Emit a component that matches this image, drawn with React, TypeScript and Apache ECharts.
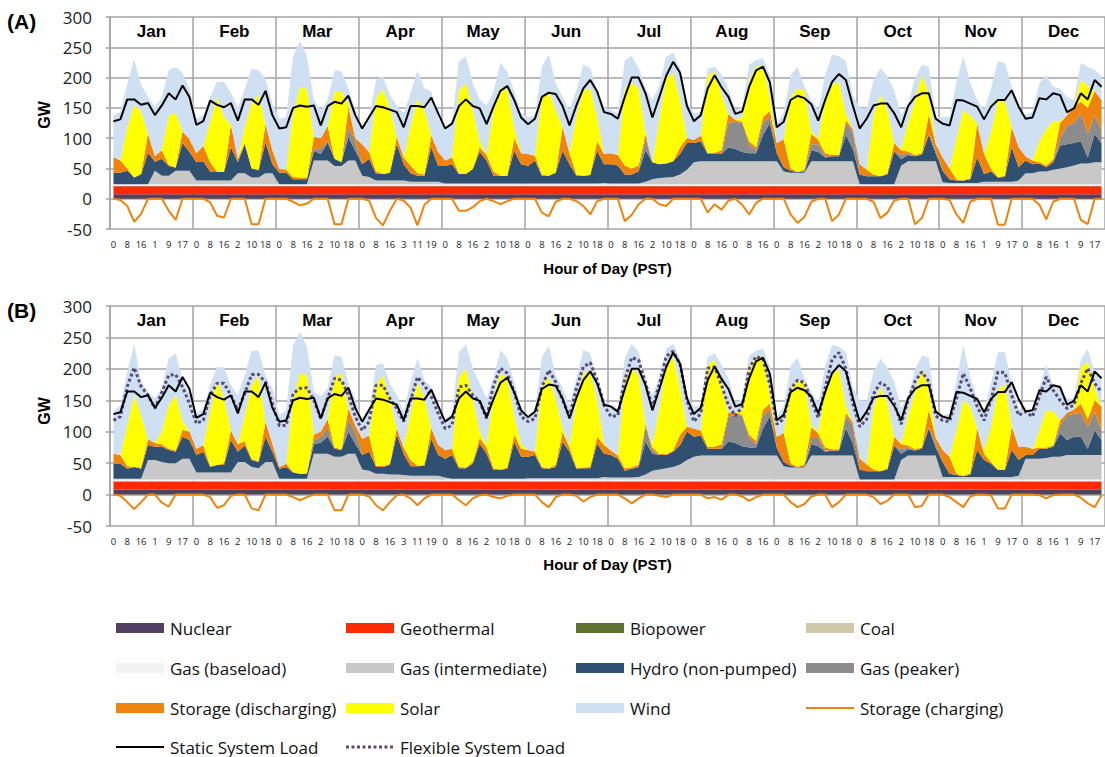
import React, { useEffect, useRef } from "react";
import * as echarts from "echarts";

const MONTHS = ["Jan", "Feb", "Mar", "Apr", "May", "Jun", "Jul", "Aug", "Sep", "Oct", "Nov", "Dec"];
const POINTS_PER_MONTH = 12;

// hour labels printed under every second point of each month
const HOUR_TICK_LABELS = [
  "0", "8", "16", "1", "9", "17",
  "0", "8", "16", "2", "10", "18",
  "0", "8", "16", "2", "10", "18",
  "0", "8", "16", "3", "11", "19",
  "0", "8", "16", "2", "10", "18",
  "0", "8", "16", "2", "10", "18",
  "0", "8", "16", "2", "10", "18",
  "0", "8", "16", "0", "8", "16",
  "0", "8", "16", "2", "10", "18",
  "0", "8", "16", "2", "10", "18",
  "0", "8", "16", "1", "9", "17",
  "0", "8", "16", "1", "9", "17",
];

// flat base generation (GW), constant within each month
const nuclearByMonth = [7.5, 7.5, 7.5, 7.5, 7.5, 7.5, 7.5, 7.5, 7.5, 7.5, 7.5, 7.5];
const geothermalByMonth = [13, 13, 13, 13, 13, 13, 13, 13, 13, 13, 13, 13];
const biopowerByMonth = [0.5, 0.5, 0.5, 0.5, 0.5, 0.5, 0.5, 0.5, 0.5, 0.5, 0.5, 0.5];
const coalByMonth = [0, 0, 0, 0, 0, 0, 0, 0, 0, 0, 0, 0];
const gasBaseloadByMonth = [3, 3, 3, 3, 3, 3, 3, 3, 3, 3, 3, 3];

// ---------- Panel (A): upper edge of each stacked layer (GW) ----------
const gasIntTopA = [
  24, 24, 24, 24, 24, 24, 46, 38, 38, 46, 46, 46,
  30, 30, 30, 30, 30, 30, 42, 42, 35, 35, 42, 42,
  24, 24, 24, 24, 24, 63, 63, 63, 54, 54, 63, 63,
  38, 36, 30, 30, 30, 30, 30, 28, 28, 28, 28, 28,
  25, 25, 25, 25, 25, 25, 25, 25, 25, 25, 25, 25,
  25, 25, 25, 25, 25, 25, 25, 25, 25, 25, 25, 26,
  25, 25, 25, 25, 25, 28, 32, 34, 35, 36, 40, 48,
  60, 62, 62, 62, 62, 62, 62, 62, 62, 62, 62, 62,
  62, 45, 43, 43, 43, 62, 62, 62, 62, 62, 62, 62,
  24, 24, 24, 24, 24, 24, 55, 62, 62, 62, 62, 62,
  27, 26, 26, 26, 26, 26, 28, 28, 28, 28, 28, 30,
  42, 42, 45, 45, 48, 50, 52, 55, 58, 58, 60, 60,
];
const hydroTopA = [
  43, 43, 46, 35, 40, 76, 61, 66, 54, 51, 92, 77,
  60, 62, 44, 44, 44, 85, 60, 90, 50, 47, 93, 57,
  43, 43, 32, 32, 32, 79, 74, 93, 66, 60, 102, 79,
  57, 66, 41, 41, 43, 90, 57, 42, 38, 38, 85, 54,
  54, 57, 41, 41, 49, 77, 63, 38, 38, 38, 79, 57,
  54, 63, 38, 38, 43, 79, 57, 38, 38, 39, 79, 57,
  57, 55, 40, 40, 45, 80, 60, 57, 58, 62, 74, 92,
  92, 95, 74, 74, 74, 85, 82, 77, 75, 75, 105, 125,
  75, 52, 46, 44, 44, 80, 77, 68, 70, 70, 105, 82,
  40, 37, 37, 37, 40, 78, 65, 72, 70, 73, 105, 75,
  46, 32, 30, 30, 32, 68, 41, 45, 35, 36, 85, 52,
  63, 57, 58, 52, 60, 88, 90, 92, 95, 68, 107, 91,
];
const peakerTopA = [
  43, 43, 46, 35, 40, 76, 61, 66, 54, 51, 92, 77,
  60, 62, 44, 44, 44, 85, 60, 90, 50, 47, 93, 57,
  43, 43, 32, 32, 32, 83, 82, 95, 66, 60, 118, 95,
  57, 66, 41, 41, 43, 90, 57, 42, 38, 38, 85, 54,
  54, 57, 41, 41, 49, 77, 63, 38, 38, 38, 79, 57,
  54, 63, 38, 38, 43, 79, 57, 38, 38, 39, 79, 57,
  57, 55, 40, 40, 45, 100, 60, 57, 58, 62, 74, 92,
  92, 95, 74, 74, 74, 125, 127, 125, 90, 80, 125, 135,
  75, 52, 46, 44, 44, 90, 90, 70, 70, 70, 125, 110,
  40, 37, 37, 37, 40, 78, 72, 75, 70, 73, 108, 80,
  46, 32, 30, 30, 32, 68, 41, 45, 35, 36, 85, 52,
  63, 57, 58, 52, 60, 100, 121, 124, 141, 107, 138, 113,
];
const storageTopA = [
  69, 63, 50, 35, 42, 107, 70, 80, 56, 52, 111, 98,
  75, 87, 60, 44, 44, 122, 66, 92, 50, 47, 123, 80,
  49, 48, 36, 35, 35, 102, 100, 120, 66, 60, 152, 100,
  90, 77, 45, 41, 43, 102, 68, 55, 42, 40, 104, 77,
  63, 68, 41, 41, 49, 85, 72, 45, 38, 38, 100, 75,
  74, 71, 40, 38, 43, 118, 75, 40, 38, 39, 95, 74,
  75, 72, 55, 50, 55, 107, 60, 57, 58, 62, 85, 100,
  97, 104, 76, 76, 80, 140, 130, 127, 95, 85, 135, 145,
  92, 98, 50, 44, 48, 107, 97, 75, 72, 72, 130, 115,
  57, 48, 40, 37, 42, 92, 80, 78, 72, 75, 140, 90,
  68, 50, 32, 30, 34, 124, 74, 50, 36, 38, 118, 85,
  70, 63, 60, 55, 65, 125, 138, 152, 160, 150, 178, 163,
];
const solarTopA = [
  69, 63, 117, 155, 144, 107, 70, 82, 137, 142, 111, 98,
  75, 87, 128, 168, 135, 122, 66, 118, 158, 172, 123, 80,
  49, 48, 140, 184, 181, 102, 100, 120, 177, 177, 157, 100,
  90, 77, 166, 181, 150, 102, 68, 120, 165, 146, 104, 77,
  63, 68, 179, 191, 146, 95, 72, 146, 185, 179, 118, 75,
  74, 71, 168, 178, 146, 118, 75, 138, 179, 182, 135, 74,
  75, 72, 182, 191, 182, 110, 60, 132, 199, 208, 163, 100,
  97, 104, 204, 210, 172, 140, 130, 135, 196, 218, 221, 168,
  92, 98, 168, 182, 179, 110, 100, 163, 188, 193, 141, 115,
  57, 48, 138, 171, 146, 92, 82, 125, 163, 204, 174, 92,
  68, 50, 99, 146, 138, 124, 74, 110, 160, 160, 118, 85,
  70, 63, 95, 115, 128, 128, 138, 152, 196, 186, 178, 163,
];
const windTopA = [
  138, 143, 190, 230, 188, 168, 152, 168, 212, 217, 208, 182,
  132, 138, 168, 193, 193, 175, 150, 181, 215, 212, 198, 158,
  132, 135, 235, 260, 236, 163, 146, 163, 212, 210, 182, 146,
  118, 135, 196, 202, 171, 154, 141, 174, 212, 182, 177, 132,
  118, 128, 227, 235, 191, 164, 154, 177, 224, 210, 177, 141,
  135, 138, 218, 238, 191, 168, 146, 179, 221, 216, 179, 152,
  146, 141, 229, 236, 216, 182, 163, 188, 234, 242, 216, 160,
  141, 143, 215, 218, 205, 182, 147, 152, 221, 229, 232, 205,
  124, 141, 204, 218, 185, 163, 146, 204, 238, 235, 227, 171,
  150, 149, 195, 216, 202, 179, 138, 157, 199, 221, 218, 135,
  135, 135, 193, 235, 191, 163, 146, 182, 227, 224, 185, 146,
  138, 143, 191, 204, 185, 182, 168, 163, 224, 218, 213, 202,
];
const storageChargingA = [
  0, -2, -12, -38, -25, 0, 0, 0, -20, -35, 0, 0,
  0, 0, -6, -28, -31, 0, 0, 0, -42, -42, 0, 0,
  0, 0, -5, -11, -8, 0, 0, 0, -42, -42, 0, 0,
  0, -3, -32, -44, -20, 0, -3, -15, -44, -10, 0, 0,
  0, 0, -20, -20, -14, -4, 0, -4, -9, -4, 0, 0,
  0, 0, -23, -29, -5, 0, 0, -4, -12, -26, -4, 0,
  0, 0, -37, -27, -9, 0, 0, -9, -12, 0, 0, 0,
  0, 0, -23, -9, -18, -3, 0, -10, -26, -7, 0, 0,
  0, 0, -26, -40, -30, -5, 0, 0, -37, -26, 0, 0,
  0, 0, -5, -32, -23, -3, 0, 0, -42, -32, 0, 0,
  0, -2, -26, -40, -5, 0, 0, 0, -43, -43, 0, 0,
  0, 0, -10, -34, -5, 0, 0, 0, -35, -42, 0, 0,
];

// static system load, identical in both panels (GW)
const staticLoad = [
  128, 131, 164, 164, 155, 158, 138, 154, 174, 164, 187, 168,
  122, 128, 162, 155, 151, 158, 129, 164, 164, 155, 178, 138,
  116, 118, 150, 154, 152, 154, 121, 153, 160, 157, 170, 138,
  116, 135, 153, 151, 147, 143, 118, 153, 153, 151, 167, 141,
  116, 124, 153, 164, 153, 149, 123, 152, 178, 186, 163, 134,
  123, 132, 168, 175, 173, 153, 121, 154, 182, 196, 177, 143,
  140, 132, 168, 200, 200, 174, 134, 168, 203, 226, 208, 153,
  128, 138, 182, 204, 184, 168, 140, 144, 185, 212, 218, 192,
  118, 127, 163, 170, 166, 156, 129, 163, 193, 206, 196, 154,
  116, 132, 154, 157, 157, 141, 118, 153, 168, 174, 174, 132,
  124, 121, 163, 162, 157, 152, 131, 152, 163, 163, 179, 152,
  132, 134, 166, 164, 174, 171, 143, 149, 174, 164, 196, 185,
];

// ---------- Panel (B) ----------
const gasIntTopB = [
  25, 25, 25, 25, 25, 55, 55, 52, 50, 50, 57, 57,
  35, 35, 35, 35, 35, 35, 52, 52, 44, 42, 52, 52,
  25, 25, 25, 25, 25, 65, 65, 65, 60, 60, 65, 65,
  40, 38, 33, 33, 32, 32, 31, 30, 30, 30, 30, 30,
  27, 25, 25, 25, 25, 25, 25, 25, 25, 25, 25, 25,
  26, 26, 26, 26, 26, 26, 26, 26, 26, 26, 26, 28,
  27, 27, 27, 27, 28, 32, 38, 40, 42, 44, 48, 55,
  60, 62, 62, 62, 62, 62, 62, 62, 62, 62, 62, 62,
  62, 45, 43, 43, 43, 62, 62, 62, 62, 62, 62, 62,
  24, 24, 24, 24, 24, 24, 55, 62, 62, 62, 62, 62,
  28, 28, 28, 28, 28, 28, 28, 28, 28, 28, 28, 30,
  57, 57, 57, 58, 60, 60, 63, 63, 63, 63, 63, 63,
];
const hydroTopB = [
  49, 49, 41, 44, 41, 79, 76, 76, 71, 68, 92, 87,
  63, 68, 44, 47, 47, 87, 68, 78, 55, 52, 92, 68,
  41, 44, 35, 33, 33, 80, 83, 92, 73, 71, 100, 81,
  63, 68, 44, 44, 47, 95, 65, 45, 45, 46, 89, 63,
  57, 63, 42, 42, 49, 81, 65, 39, 39, 41, 84, 60,
  60, 63, 42, 41, 44, 84, 68, 41, 42, 42, 81, 65,
  63, 57, 38, 41, 44, 84, 65, 63, 63, 68, 79, 100,
  92, 94, 73, 73, 73, 85, 82, 77, 75, 75, 105, 125,
  75, 52, 46, 44, 44, 80, 77, 68, 70, 70, 105, 82,
  40, 37, 37, 37, 40, 78, 65, 72, 70, 73, 105, 75,
  52, 33, 31, 29, 32, 71, 55, 49, 39, 39, 71, 55,
  63, 63, 73, 73, 76, 97, 87, 92, 92, 73, 102, 87,
];
const peakerTopB = [
  49, 49, 41, 44, 41, 79, 76, 76, 71, 68, 92, 87,
  63, 68, 44, 47, 47, 87, 68, 78, 55, 52, 92, 68,
  41, 44, 35, 33, 33, 87, 92, 105, 73, 71, 120, 100,
  63, 68, 44, 44, 47, 95, 65, 45, 45, 46, 89, 63,
  57, 63, 42, 42, 49, 81, 65, 39, 39, 41, 84, 60,
  60, 63, 42, 41, 44, 84, 68, 41, 42, 42, 81, 65,
  63, 57, 38, 41, 44, 108, 70, 63, 63, 68, 79, 100,
  92, 94, 73, 73, 73, 124, 127, 125, 90, 80, 125, 135,
  75, 52, 46, 44, 44, 90, 90, 70, 70, 70, 125, 110,
  40, 37, 37, 37, 40, 78, 72, 75, 70, 73, 108, 80,
  52, 33, 31, 29, 32, 71, 55, 49, 39, 39, 71, 55,
  63, 63, 73, 73, 76, 110, 126, 128, 130, 108, 132, 102,
];
const storageTopB = [
  65, 63, 45, 44, 43, 88, 82, 80, 73, 70, 103, 100,
  73, 79, 45, 47, 50, 102, 80, 85, 56, 53, 116, 81,
  44, 49, 36, 33, 34, 95, 100, 120, 75, 72, 137, 110,
  89, 94, 46, 45, 49, 105, 75, 55, 46, 47, 105, 79,
  71, 73, 44, 43, 52, 90, 75, 42, 40, 43, 95, 73,
  71, 68, 44, 42, 47, 100, 75, 43, 43, 44, 92, 79,
  70, 62, 42, 43, 48, 112, 75, 65, 64, 70, 95, 108,
  105, 102, 76, 76, 80, 130, 130, 127, 95, 85, 135, 145,
  92, 98, 50, 44, 48, 107, 97, 75, 72, 72, 130, 115,
  57, 48, 40, 37, 42, 92, 80, 78, 72, 75, 135, 90,
  71, 60, 33, 30, 34, 105, 65, 52, 40, 40, 108, 76,
  76, 73, 75, 75, 78, 118, 130, 135, 145, 120, 150, 140,
];
const solarTopB = [
  65, 63, 110, 158, 126, 88, 82, 100, 142, 158, 117, 100,
  73, 79, 132, 183, 153, 102, 80, 125, 174, 190, 116, 81,
  44, 49, 150, 193, 190, 95, 100, 121, 187, 193, 137, 110,
  89, 94, 174, 190, 153, 105, 75, 130, 179, 153, 105, 79,
  71, 73, 187, 201, 153, 100, 78, 158, 193, 185, 126, 80,
  71, 68, 174, 187, 153, 105, 78, 150, 193, 198, 150, 82,
  70, 62, 185, 201, 190, 112, 80, 137, 206, 219, 169, 108,
  105, 102, 206, 214, 174, 130, 130, 135, 200, 220, 218, 160,
  92, 98, 168, 182, 179, 110, 100, 163, 190, 200, 141, 115,
  57, 48, 138, 171, 146, 92, 82, 125, 163, 200, 170, 92,
  71, 60, 102, 150, 140, 105, 70, 108, 166, 177, 110, 76,
  76, 73, 102, 134, 132, 118, 130, 135, 203, 211, 169, 140,
];
const windTopB = [
  132, 142, 195, 240, 180, 163, 153, 169, 217, 225, 182, 161,
  129, 137, 174, 203, 202, 174, 158, 190, 229, 229, 190, 169,
  126, 134, 238, 259, 235, 163, 156, 169, 222, 219, 177, 153,
  116, 132, 206, 209, 177, 158, 132, 179, 217, 182, 171, 134,
  121, 129, 227, 239, 201, 177, 153, 185, 230, 217, 179, 140,
  121, 134, 219, 237, 190, 169, 142, 185, 230, 225, 182, 153,
  140, 137, 217, 240, 227, 179, 158, 187, 232, 240, 217, 158,
  141, 142, 219, 225, 206, 185, 147, 152, 221, 229, 232, 205,
  124, 141, 204, 218, 185, 163, 146, 204, 238, 235, 227, 171,
  150, 149, 195, 216, 202, 179, 138, 157, 199, 221, 218, 135,
  126, 129, 182, 238, 187, 153, 134, 177, 227, 227, 177, 137,
  129, 134, 171, 206, 174, 169, 153, 153, 214, 232, 195, 187,
];
const storageChargingB = [
  0, -2, -12, -23, -12, 0, 0, -13, -19, 0, 0, 0,
  0, 0, -4, -21, -17, -2, 0, 0, -22, -25, 0, 0,
  0, 0, -4, -9, -4, 0, 0, 0, -25, -25, 0, 0,
  0, -3, -17, -25, -12, -1, 0, -6, -17, -6, 0, 0,
  0, 0, -9, -17, -6, -1, 0, -4, -6, -2, 0, 0,
  0, 0, -12, -20, -4, 0, 0, -2, -11, -4, 0, 0,
  0, 0, -6, -14, -6, 0, 0, -2, -4, 0, 0, 0,
  0, 0, -6, -4, -8, 0, 0, -3, -10, -4, 0, 0,
  0, 0, -12, -20, -15, -3, 0, 0, -20, -12, 0, 0,
  0, 0, -4, -15, -10, 0, 0, 0, -20, -18, 0, 0,
  0, -4, -12, -20, -3, 0, 0, -1, -22, -22, 0, 0,
  0, 0, -1, -6, -1, 0, 0, 0, -5, -14, -20, -1,
];
const flexibleLoadB = [
  118, 124, 172, 202, 172, 158, 137, 163, 190, 191, 171, 145,
  113, 118, 158, 177, 177, 158, 134, 161, 191, 191, 179, 145,
  110, 110, 161, 169, 170, 150, 121, 153, 185, 182, 158, 124,
  102, 116, 174, 174, 153, 137, 116, 150, 187, 174, 156, 129,
  105, 110, 171, 174, 158, 148, 121, 174, 201, 193, 163, 124,
  116, 121, 171, 198, 179, 150, 124, 169, 203, 210, 182, 142,
  124, 126, 183, 218, 214, 178, 138, 175, 220, 228, 207, 150,
  116, 129, 201, 203, 174, 142, 125, 140, 200, 220, 215, 175,
  112, 120, 168, 182, 178, 150, 122, 170, 215, 226, 200, 145,
  108, 120, 160, 178, 172, 145, 112, 150, 180, 195, 180, 125,
  118, 116, 153, 193, 169, 140, 118, 150, 195, 194, 158, 126,
  132, 124, 156, 187, 166, 150, 137, 142, 177, 201, 177, 163,
];

// ---------- styles ----------
const LAYERS = [
  { name: "Nuclear", color: "#51405f" },
  { name: "Geothermal", color: "#ff2a00" },
  { name: "Biopower", color: "#5e7332" },
  { name: "Coal", color: "#cfc9a9" },
  { name: "Gas (baseload)", color: "#f2f2f2" },
  { name: "Gas (intermediate)", color: "#c8c8c8" },
  { name: "Hydro (non-pumped)", color: "#2f5070" },
  { name: "Gas (peaker)", color: "#8c8c8c" },
  { name: "Storage (discharging)", color: "#ee840e" },
  { name: "Solar", color: "#ffff00" },
  { name: "Wind", color: "#cfe0f3" },
];
const CHARGE_COLOR = "#ee840e";
const FLEX_COLOR = "#5a4a78";
const GRID_COLOR = "#a3a3a3";
const SANS = "'Open Sans', 'Liberation Sans', sans-serif";
const BOLD = "'Liberation Sans', Arial, sans-serif";

const CATEGORIES = MONTHS.flatMap((m) =>
  Array.from({ length: POINTS_PER_MONTH }, (_, j) => `${m} ${j}`)
);

const perPoint = (byMonth: number[]) =>
  byMonth.flatMap((v) => Array(POINTS_PER_MONTH).fill(v));

function buildLayers(tops: number[][]): number[][] {
  const base = [nuclearByMonth, geothermalByMonth, biopowerByMonth, coalByMonth, gasBaseloadByMonth].map(perPoint);
  const cum = CATEGORIES.map((_, i) => base.reduce((s, l) => s + l[i], 0));
  const upper = tops.map((top) =>
    top.map((t, i) => {
      const h = Math.max(t, cum[i]);
      const d = h - cum[i];
      cum[i] = h;
      return Math.round(d * 100) / 100;
    })
  );
  return [...base, ...upper];
}

function panelSeries(p: number, tops: number[][], charging: number[], flex?: number[]) {
  const layers = buildLayers(tops);
  const out: any[] = layers.map((data, k) => ({
    type: "line",
    name: LAYERS[k].name,
    xAxisIndex: p * 2,
    yAxisIndex: p,
    stack: "gen" + p,
    data,
    symbol: "none",
    silent: true,
    lineStyle: { width: 0, opacity: 0 },
    itemStyle: { color: LAYERS[k].color },
    areaStyle: { color: LAYERS[k].color, opacity: 1 },
    z: 2,
  }));
  out.push({
    type: "line",
    name: "Storage (charging)",
    xAxisIndex: p * 2,
    yAxisIndex: p,
    data: charging,
    symbol: "none",
    silent: true,
    lineStyle: { color: CHARGE_COLOR, width: 2 },
    itemStyle: { color: CHARGE_COLOR },
    z: 3,
  });
  if (flex) {
    out.push({
      type: "line",
      name: "Flexible System Load",
      xAxisIndex: p * 2,
      yAxisIndex: p,
      data: flex,
      symbol: "none",
      silent: true,
      lineStyle: { color: FLEX_COLOR, width: 3, type: [3, 2.5] },
      itemStyle: { color: FLEX_COLOR },
      z: 4,
    });
  }
  out.push({
    type: "line",
    name: "Static System Load",
    xAxisIndex: p * 2,
    yAxisIndex: p,
    data: staticLoad,
    symbol: "none",
    silent: true,
    lineStyle: { color: "#000000", width: 2 },
    itemStyle: { color: "#000000" },
    z: 5,
  });
  return out;
}

const GRIDS = [
  { left: 110, top: 17, width: 996, height: 212 },
  { left: 110, top: 306, width: 996, height: 220 },
];

function axesFor(p: number) {
  const hourAxis = {
    type: "category",
    gridIndex: p,
    data: CATEGORIES,
    boundaryGap: true,
    axisLine: { show: false, onZero: false },
    axisTick: { show: false },
    splitLine: { show: false },
    axisLabel: {
      interval: (i: number) => i % 2 === 0,
      formatter: (_v: string, i: number) => (i % 2 === 0 ? HOUR_TICK_LABELS[i / 2] : ""),
      fontSize: 9.5,
      fontFamily: SANS,
      color: "#222",
      margin: 10,
    },
    name: "Hour of Day (PST)",
    nameLocation: "middle",
    nameGap: p === 0 ? 32 : 31,
    nameTextStyle: { fontSize: 15, fontWeight: "bold", fontFamily: BOLD, color: "#000" },
  };
  const monthAxis = {
    type: "category",
    gridIndex: p,
    position: "top",
    data: MONTHS,
    boundaryGap: true,
    axisLine: { show: false, onZero: false },
    axisTick: { show: false },
    splitLine: { show: true, lineStyle: { color: GRID_COLOR, width: 1.5 } },
    axisLabel: {
      inside: true,
      interval: 0,
      margin: 6,
      fontSize: 17,
      fontWeight: "bold",
      fontFamily: BOLD,
      color: "#000",
    },
  };
  return [hourAxis, monthAxis];
}

function yAxisFor(p: number) {
  return {
    type: "value",
    gridIndex: p,
    min: -50,
    max: 300,
    interval: 50,
    axisLine: { show: true, lineStyle: { color: GRID_COLOR, width: 1.5 } },
    axisTick: { show: true, length: 4, lineStyle: { color: GRID_COLOR, width: 1.5 } },
    splitLine: { show: true, lineStyle: { color: GRID_COLOR, width: 1.5 } },
    axisLabel: { fontSize: 17, fontFamily: SANS, color: "#222", margin: 18 },
  };
}

const LEGEND_ITEMS = [
  { name: "Nuclear", kind: "rect", color: LAYERS[0].color },
  { name: "Geothermal", kind: "rect", color: LAYERS[1].color },
  { name: "Biopower", kind: "rect", color: LAYERS[2].color },
  { name: "Coal", kind: "rect", color: LAYERS[3].color },
  { name: "Gas (baseload)", kind: "rect", color: LAYERS[4].color },
  { name: "Gas (intermediate)", kind: "rect", color: LAYERS[5].color },
  { name: "Hydro (non-pumped)", kind: "rect", color: LAYERS[6].color },
  { name: "Gas (peaker)", kind: "rect", color: LAYERS[7].color },
  { name: "Storage (discharging)", kind: "rect", color: LAYERS[8].color },
  { name: "Solar", kind: "rect", color: LAYERS[9].color },
  { name: "Wind", kind: "rect", color: LAYERS[10].color },
  { name: "Storage (charging)", kind: "line", color: CHARGE_COLOR },
  { name: "Static System Load", kind: "line", color: "#000000" },
  { name: "Flexible System Load", kind: "dots", color: FLEX_COLOR },
];
const LEGEND_ROWS_Y = [628, 668, 708, 747];

function legendGraphics() {
  const els: any[] = [];
  LEGEND_ITEMS.forEach((it, i) => {
    const col = i % 4;
    const row = Math.floor(i / 4);
    const sx = 116 + col * 230;
    const y = LEGEND_ROWS_Y[row];
    if (it.kind === "rect") {
      els.push({ type: "rect", shape: { x: sx, y: y - 5, width: 48, height: 10 }, style: { fill: it.color } });
    } else {
      els.push({
        type: "line",
        shape: { x1: sx, y1: y, x2: sx + 48, y2: y },
        style: {
          stroke: it.color,
          lineWidth: it.kind === "dots" ? 3 : 2,
          lineDash: it.kind === "dots" ? [3, 2.5] : null,
        },
      });
    }
    els.push({
      type: "text",
      x: sx + 54,
      y,
      style: { text: it.name, fontSize: 17, fontFamily: SANS, fill: "#111", verticalAlign: "middle" },
    });
  });
  return els;
}

export default function App() {
  const ref = useRef<HTMLDivElement>(null);
  useEffect(() => {
    if (!ref.current) return;
    const chart = echarts.init(ref.current, undefined, { renderer: "svg" });
    const [hA, mA] = axesFor(0);
    const [hB, mB] = axesFor(1);
    chart.setOption({
      animation: false,
      backgroundColor: "#ffffff",
      grid: GRIDS,
      xAxis: [hA, mA, hB, mB],
      yAxis: [yAxisFor(0), yAxisFor(1)],
      series: [
        ...panelSeries(0, [gasIntTopA, hydroTopA, peakerTopA, storageTopA, solarTopA, windTopA], storageChargingA),
        ...panelSeries(1, [gasIntTopB, hydroTopB, peakerTopB, storageTopB, solarTopB, windTopB], storageChargingB, flexibleLoadB),
      ],
      graphic: [
        { type: "text", x: 7, y: 21, style: { text: "(A)", fontSize: 21, fontWeight: "bold", fontFamily: BOLD, fill: "#000", verticalAlign: "middle" } },
        { type: "text", x: 7, y: 310, style: { text: "(B)", fontSize: 21, fontWeight: "bold", fontFamily: BOLD, fill: "#000", verticalAlign: "middle" } },
        { type: "text", x: 44, y: 115, rotation: Math.PI / 2, style: { text: "GW", fontSize: 16, fontWeight: "bold", fontFamily: BOLD, fill: "#000", align: "center", verticalAlign: "middle" } },
        { type: "text", x: 44, y: 411, rotation: Math.PI / 2, style: { text: "GW", fontSize: 16, fontWeight: "bold", fontFamily: BOLD, fill: "#000", align: "center", verticalAlign: "middle" } },
        ...legendGraphics(),
      ],
    });
    return () => chart.dispose();
  }, []);
  return <div ref={ref} style={{ position: "absolute", left: 0, top: 0, width: 1105, height: 757 }} />;
}
